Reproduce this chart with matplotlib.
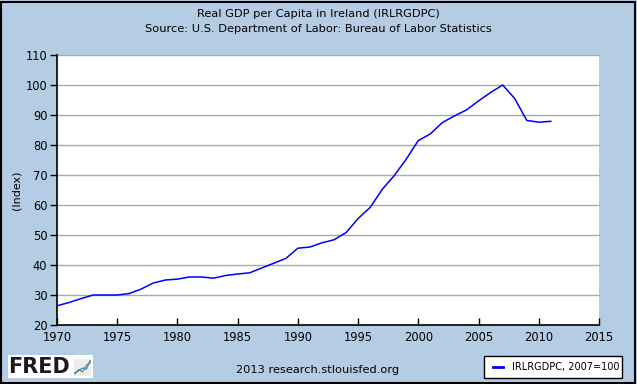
import matplotlib
matplotlib.use("Agg")
import matplotlib.pyplot as plt
from matplotlib.patches import Rectangle
from matplotlib.lines import Line2D

years = list(range(1970, 2012))
values = [26.4, 27.5, 28.8, 30.0, 30.0, 30.0, 30.5, 32.0, 34.0, 35.0,
          35.3, 36.0, 36.0, 35.6, 36.5, 37.0, 37.4, 39.0, 40.6, 42.2,
          45.6, 46.0, 47.4, 48.4, 50.8, 55.5, 59.2, 65.2, 69.8, 75.3,
          81.5, 83.7, 87.5, 89.7, 91.7, 94.7, 97.5, 100.0, 95.5, 88.2,
          87.6, 87.9]
xticks = [1970, 1975, 1980, 1985, 1990, 1995, 2000, 2005, 2010, 2015]
yticks = [20, 30, 40, 50, 60, 70, 80, 90, 100, 110]
title1 = "Real GDP per Capita in Ireland (IRLRGDPC)"
title2 = "Source: U.S. Department of Labor: Bureau of Labor Statistics"
legend_label = "IRLRGDPC, 2007=100"

W, H = 637, 384
bg = "#B5CDE4"
plt.rcParams['font.family'] = ['DejaVu Sans']
fig = plt.figure(figsize=(W/100, H/100), dpi=100, facecolor=bg)

# outer border
fig.patches.append(Rectangle((1/W, 1/H), (W-3)/W, (H-3)/H, transform=fig.transFigure,
                             fill=False, edgecolor="black", linewidth=1.5))

ax = fig.add_axes([57/W, (H-325)/H, (599-57)/W, (325-55)/H])
ax.set_facecolor("white")
ax.plot(years, values, color="#0000FF", linewidth=1.1)
ax.set_xlim(1970, 2015)
ax.set_ylim(20, 110)
ax.set_xticks(xticks)
ax.set_yticks(yticks)
for y in yticks[1:]:
    ax.axhline(y, color="#AAAAAA", linewidth=1.0, zorder=0, clip_on=False)
for s in ["top", "right"]:
    ax.spines[s].set_visible(False)
ax.spines["left"].set_linewidth(1.2)
ax.spines["bottom"].set_linewidth(1.2)
ax.tick_params(axis="y", direction="out", length=5, width=1, labelsize=8.3, pad=2)
ax.tick_params(axis="x", direction="in", length=5, width=1, labelsize=8.3, pad=4)

fig.text(17/W, 1 - 190/H, "(Index)", rotation=90, ha="center", va="center", fontsize=8)

fig.text(0.5, 1 - 14/H, title1, ha="center", va="center", fontsize=8.2)
fig.text(0.5, 1 - 29/H, title2, ha="center", va="center", fontsize=8.2)

fig.text(318/W, 1 - 370/H, "2013 research.stlouisfed.org", ha="center", va="center", fontsize=8.2)

# legend box
fig.patches.append(Rectangle((484/W, 1 - 378/H), (622-484)/W, 22/H, transform=fig.transFigure,
                             facecolor="white", edgecolor="black", linewidth=1))
fig.lines.append(Line2D([493/W, 503/W], [1 - 367/H, 1 - 367/H], transform=fig.transFigure,
                        color="#0000FF", linewidth=2))
fig.text(512/W, 1 - 367/H, legend_label, ha="left", va="center", fontsize=7)

# FRED logo
fig.patches.append(Rectangle((8/W, 1 - 378/H), 85/W, 23/H, transform=fig.transFigure,
                             facecolor="white", edgecolor="none"))
fig.text(8/W, 1 - 367/H, "FRED", ha="left", va="center", fontsize=15, fontweight="heavy",
         color="#1A1A1A")
ia = fig.add_axes([74/W, 1 - 376/H, 17/W, 17/H], zorder=5)
ia.set_facecolor("#EDEDED")
ia.plot([0, 1, 2, 3, 4], [0.2, 1.0, 0.6, 1.8, 2.4], color="#5A9A3A", linewidth=0.9)
ia.plot([0, 1, 2, 3, 4], [0.4, 0.8, 1.3, 1.1, 2.7], color="#4A7AC0", linewidth=0.9)
ia.set_xlim(-0.2, 4.2); ia.set_ylim(-0.2, 3)
ia.set_xticks([]); ia.set_yticks([])
for s in ia.spines.values():
    s.set_visible(False)

fig.savefig("out.png", dpi=100, facecolor=bg)
